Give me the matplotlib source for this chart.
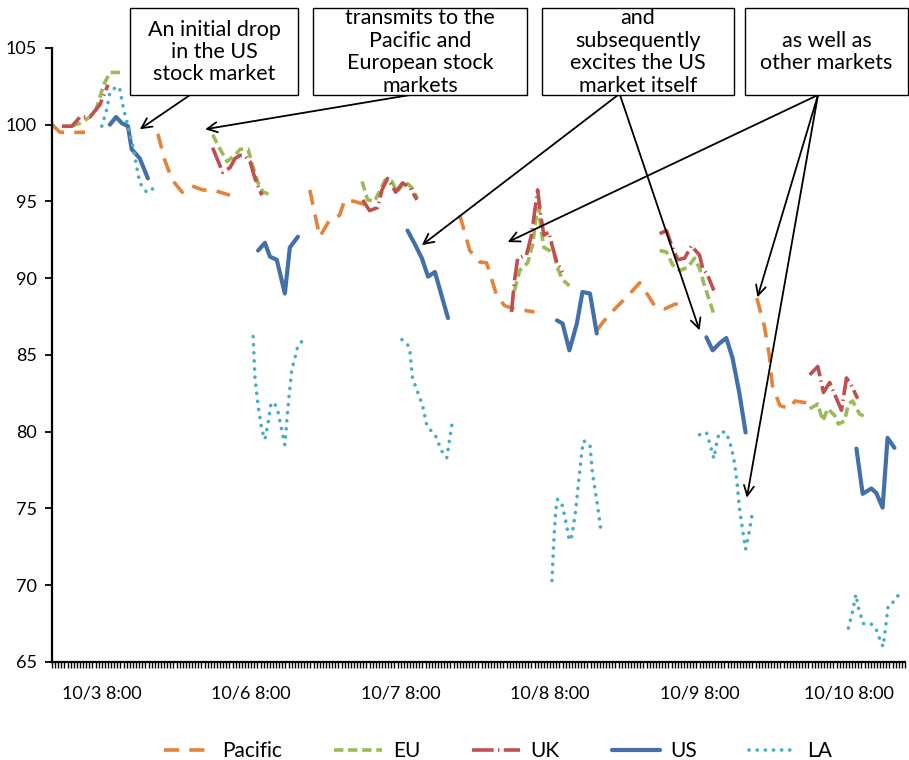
import numpy as np
import matplotlib
matplotlib.use("Agg")
import matplotlib.pyplot as plt
from matplotlib.patches import Rectangle
from matplotlib.ticker import MultipleLocator

plt.rcParams['font.family'] = ['Lato', 'DejaVu Sans']

nan = np.nan

# trading-hour axis (half-hour slots, weekend removed), index value
pacific_t = [0, 1.3, 5.3, nan, 17.0, 18.1, 19.3, 20.9, 22.5, 24.2, 26.2, 28.6, nan,
             41.4, 43.0, 44.6, 46.2, 47.0, 48.6, 50.2, nan,
             65.5, 67.1, 68.7, 69.8, 71.4, 72.7, 74.3, 77.5, nan,
             87.5, 89.2, 90.9, 92.8, 94.4, 95.7, 96.8, 98.4, 100.0, 101.3, nan,
             113.2, 114.4, 115.2, 115.7, 116.9, 118.5, 119.3, 120.9, 123.0]
pacific_v = [100.0, 99.5, 99.5, nan, 99.4, 97.7, 96.4, 95.6, 96.0, 95.75, 95.7, 95.4, nan,
             95.75, 92.7, 93.8, 94.1, 95.1, 95.0, 94.8, nan,
             94.1, 91.8, 91.05, 91.0, 88.9, 88.2, 88.0, 87.8, nan,
             86.6, 87.5, 88.2, 89.0, 89.7, 88.9, 88.2, 88.0, 88.3, 88.35, nan,
             88.7, 86.9, 85.0, 83.0, 81.7, 81.5, 82.0, 81.9, 81.7]

eu_t = [3.2, 4.5, 6.1, 7.1, 8.3, 9.3, 11.7, nan,
        25.8, 27.0, 28.1, 29.4, 30.2, 31.5, 32.1, 33.1, 33.9, 35.5, nan,
        49.8, 50.7, 51.8, 53.5, 54.6, 55.4, 56.7, 57.8, 58.7, nan,
        74.3, 75.1, 76.4, 77.2, 77.8, 78.2, 78.5, 79.0, 79.9, 80.7, 81.2, 82.0, 83.1, nan,
        97.6, 98.7, 99.7, 100.8, 102.1, 103.2, 104.0, 104.8, 105.6, 106.4, nan,
        121.7, 123.0, 123.8, 124.6, 125.7, 126.3, 127.3, 127.9, 128.6, 129.7, 131.0]
eu_v = [99.9, 100.1, 100.5, 101.0, 102.6, 103.4, 103.4, nan,
        99.35, 98.4, 97.6, 98.0, 98.4, 98.4, 97.5, 96.2, 95.6, 95.4, nan,
        96.3, 95.1, 95.0, 96.4, 96.3, 95.6, 96.3, 95.9, 95.2, nan,
        89.2, 90.5, 91.0, 92.2, 94.1, 94.6, 93.3, 92.0, 91.8, 91.5, 90.65, 89.9, 89.5, nan,
        91.8, 91.7, 90.85, 90.5, 90.7, 91.3, 90.65, 89.5, 88.55, 87.5, nan,
        81.5, 81.8, 80.7, 81.5, 81.05, 80.5, 80.7, 81.8, 82.0, 81.15, 80.9]

uk_t = [1.6, 3.2, 4.5, 6.1, 7.7, 9.0, nan,
        25.8, 27.4, 28.6, 29.4, 30.2, 31.0, 31.8, 32.6, 33.7, nan,
        49.9, 51.0, 52.3, 53.0, 53.9, 55.2, 56.3, 57.5, 58.6, nan,
        73.8, 74.3, 74.8, 76.2, 77.0, 78.0, 78.5, 79.0, 79.8, 80.4, 81.1, 82.0, nan,
        97.6, 98.7, 99.5, 100.5, 101.6, 102.7, 104.0, 104.5, 105.3, 106.3, nan,
        121.7, 123.0, 123.9, 124.9, 125.8, 126.8, 127.6, 128.4, 129.4]
uk_v = [99.9, 99.9, 100.5, 100.5, 101.3, 102.6, nan,
        98.5, 96.9, 97.2, 97.8, 98.0, 97.95, 97.6, 96.5, 95.4, nan,
        95.1, 94.4, 94.6, 95.75, 96.5, 95.6, 96.2, 95.9, 95.1, nan,
        87.8, 89.9, 91.3, 91.5, 92.8, 95.75, 94.1, 92.8, 93.0, 92.0, 91.0, 90.4, nan,
        92.9, 93.1, 92.15, 91.2, 91.3, 92.1, 91.5, 90.65, 90.2, 89.2, nan,
        83.7, 84.25, 82.55, 83.2, 82.35, 81.4, 83.5, 83.0, 82.15]

us_t = [9.3, 10.3, 11.2, 12.2, 12.8, 14.1, 15.4, nan,
        33.1, 34.2, 35.0, 36.1, 37.4, 38.2, 39.5, nan,
        57.1, 58.3, 59.4, 60.4, 61.5, 63.6, nan,
        81.1, 82.0, 83.1, 84.3, 85.2, 86.4, 87.5, nan,
        105.1, 106.1, 107.2, 108.3, 109.3, 110.4, 111.4, nan,
        129.2, 130.2, 131.6, 132.4, 133.4, 134.2, 135.3]
us_v = [100.0, 100.5, 100.1, 99.9, 98.4, 97.8, 96.5, nan,
        91.8, 92.3, 91.4, 91.2, 89.0, 92.0, 92.7, nan,
        93.1, 92.2, 91.3, 90.1, 90.4, 87.4, nan,
        87.25, 87.05, 85.3, 87.05, 89.1, 89.0, 86.4, nan,
        86.15, 85.3, 85.75, 86.1, 84.8, 82.5, 79.95, nan,
        78.9, 75.95, 76.3, 76.0, 75.05, 79.6, 78.95]

la_t = [8.0, 8.8, 9.3, 10.4, 10.9, 11.4, 12.2, 13.0, 13.6, 14.1, 15.2, 16.1, 16.5, nan,
        32.3, 32.6, 33.1, 33.7, 34.2, 34.7, 35.2, 35.8, 36.3, 36.9, 37.4, 37.9, 38.5, 39.5, 40.4, nan,
        56.2, 57.1, 57.5, 57.9, 58.7, 59.5, 60.2, 61.0, 61.8, 62.3, 62.9, 63.4, 63.9, 64.4, nan,
        80.3, 80.6, 80.9, 81.2, 81.9, 82.5, 83.1, 83.5, 84.1, 84.6, 85.1, 85.4, 86.4, 86.8, 87.5, 88.1, 88.4, nan,
        104.0, 105.1, 105.6, 106.3, 106.9, 107.4, 108.3, 109.0, 109.5, 110.0, 110.4, 110.9, 111.4, 111.9, 112.4, nan,
        127.9, 128.6, 129.1, 129.5, 130.3, 131.5, 132.3, 133.2, 133.5, 134.0, 134.3, 135.3, 136.3]
la_v = [99.9, 101.0, 102.1, 102.5, 102.3, 101.2, 99.9, 98.6, 97.25, 96.2, 95.6, 95.75, 96.3, nan,
        86.2, 83.5, 81.7, 80.1, 79.5, 80.55, 81.9, 81.8, 81.3, 80.1, 79.15, 81.6, 84.0, 85.6, 86.0, nan,
        86.0, 85.7, 85.2, 83.5, 82.6, 81.75, 80.4, 80.0, 79.6, 79.0, 78.5, 78.3, 79.6, 80.9, nan,
        70.3, 72.9, 74.85, 75.6, 75.3, 74.2, 72.9, 73.2, 74.85, 76.8, 78.75, 79.4, 79.15, 77.3, 75.5, 73.75, 73.3, nan,
        79.8, 79.95, 79.3, 78.25, 79.6, 80.0, 79.95, 79.1, 78.25, 76.8, 75.05, 73.65, 72.35, 73.3, 74.5, nan,
        67.2, 68.3, 69.4, 68.55, 67.5, 67.5, 67.2, 66.2, 66.0, 67.65, 68.7, 68.95, 69.6]

tick_pos = [8, 32, 56, 80, 104, 128]
tick_labels = ['10/3 8:00', '10/6 8:00', '10/7 8:00', '10/8 8:00', '10/9 8:00', '10/10 8:00']

fig = plt.figure(figsize=(9.09, 7.6), dpi=100)
ax = fig.add_axes([0.0572, 0.129, 0.9384, 0.808])

ax.plot(pacific_t, pacific_v, color='#E3843C', lw=2.6, dashes=(4.2, 2.8), label='Pacific')
ax.plot(eu_t, eu_v, color='#9BBB59', lw=2.6, dashes=(2.6, 1.3), label='EU')
ax.plot(uk_t, uk_v, color='#C0504D', lw=2.6, dashes=(6, 1.2, 0.4, 1.2), label='UK')
ax.plot(us_t, us_v, color='#4470AA', lw=3.0, solid_capstyle='round', label='US')
ax.plot(la_t, la_v, color='#4BACC6', lw=2.6, dashes=(0.05, 2.2), dash_capstyle='round', label='LA')

ax.set_xlim(0, 137)
ax.set_ylim(65, 105)
ax.set_yticks(np.arange(65, 106, 5))
ax.set_xticks(tick_pos)
ax.set_xticklabels(tick_labels)
ax.xaxis.set_minor_locator(MultipleLocator(0.5))
ax.tick_params(axis='x', which='both', length=4, width=1, direction='out', pad=13, labelsize=13)
ax.tick_params(axis='y', length=5, width=1.3, direction='out', pad=6, labelsize=13)
for s in ['top', 'right']:
    ax.spines[s].set_visible(False)
for s in ['left', 'bottom']:
    ax.spines[s].set_linewidth(1.6)

# text boxes above the plot, in figure pixels
W, H = 909, 760
boxes = [
    (130, 298, 'An initial drop\nin the US\nstock market'),
    (313, 527, 'transmits to the\nPacific and\nEuropean stock\nmarkets'),
    (542, 734, 'and\nsubsequently\nexcites the US\nmarket itself'),
    (745, 908, 'as well as\nother markets'),
]
for x0, x1, txt in boxes:
    fig.patches.append(Rectangle((x0 / W, 1 - 95 / H), (x1 - x0) / W, 87 / H,
                                 transform=fig.transFigure, facecolor='white',
                                 edgecolor='black', lw=1.0, zorder=5))
    fig.text((x0 + x1) / 2 / W, 1 - 52 / H, txt, ha='center', va='center',
             fontsize=15.5, linespacing=1.15, zorder=6)

# arrows: tail on box bottom, tip on the series
arrows = [
    ((190, 95), (14.1, 99.7)),
    ((410, 95), (24.6, 99.7)),
    ((618, 95), (59.4, 92.15)),
    ((620, 95), (104.0, 86.6)),
    ((818, 95), (73.2, 92.35)),
    ((818, 95), (113.3, 88.75)),
    ((818, 95), (111.6, 75.7)),
]
for (px, py), tip in arrows:
    ax.annotate('', xy=tip, xycoords='data', xytext=(px / W, 1 - py / H),
                textcoords='figure fraction',
                arrowprops=dict(arrowstyle='->', lw=1.3, color='black',
                                mutation_scale=18, shrinkA=0, shrinkB=0),
                annotation_clip=False, zorder=7)

fig.legend(loc='lower center', bbox_to_anchor=(0.548, -0.026), ncol=5, frameon=False,
           fontsize=15, handlelength=2.3, columnspacing=2.5, handletextpad=0.5)

fig.savefig('out.png', dpi=100)
